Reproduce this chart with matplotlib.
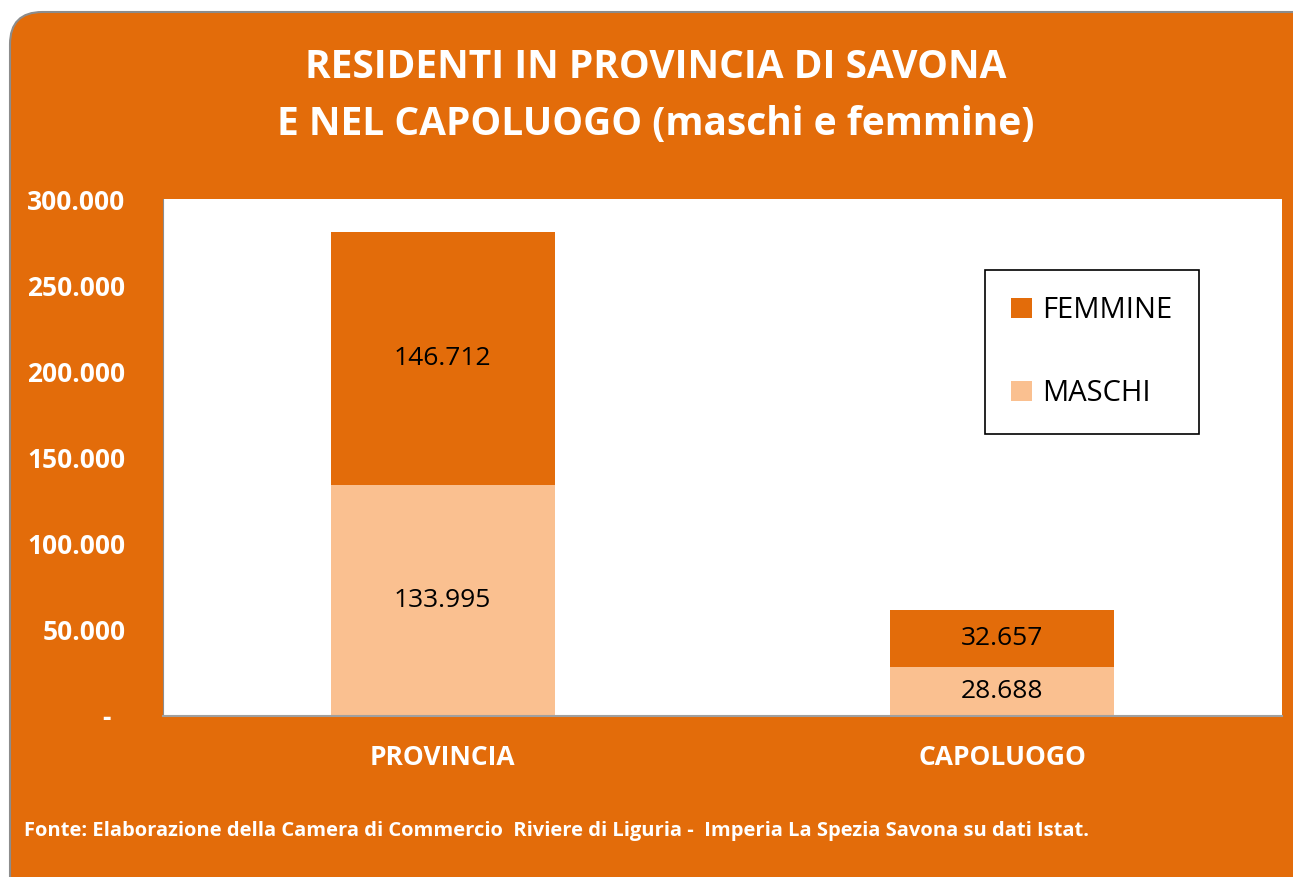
import matplotlib.pyplot as plt
from matplotlib.patches import FancyBboxPatch
from matplotlib.ticker import FuncFormatter

# dati
categorie = ["PROVINCIA", "CAPOLUOGO"]
maschi = [133995, 28688]
femmine = [146712, 32657]

arancio = "#E36C0A"
pesca = "#FAC090"
font = "Open Sans"

fig = plt.figure(figsize=(12.93, 8.77), dpi=100)
fig.patch.set_facecolor("white")

# riquadro arancione arrotondato
box = FancyBboxPatch((10 / 1293, -0.05), 1.05, 1 - 12 / 877 + 0.05,
                     boxstyle="round,pad=0,rounding_size=0.025",
                     transform=fig.transFigure, facecolor=arancio,
                     edgecolor="#8c8c8c", linewidth=1.5, mutation_aspect=1293 / 877,
                     zorder=-10)
fig.patches.append(box)

ax = fig.add_axes([163 / 1293, 1 - 716 / 877, 1119 / 1293, 517 / 877])
ax.set_zorder(5)
ax.set_facecolor("white")

x = range(len(categorie))
b1 = ax.bar(x, maschi, width=0.4, color=pesca, label="MASCHI")
b2 = ax.bar(x, femmine, width=0.4, bottom=maschi, color=arancio, label="FEMMINE")

def fmt(v):
    return f"{v:,.0f}".replace(",", ".")

for bars, vals, bott in [(b1, maschi, [0, 0]), (b2, femmine, maschi)]:
    for r, v, b in zip(bars, vals, bott):
        ax.text(r.get_x() + r.get_width() / 2, b + v / 2, fmt(v),
                ha="center", va="center", fontsize=19, family=font, color="black")

ax.set_xlim(-0.5, 1.5)
ax.set_ylim(0, 300000)
ax.set_yticks(range(0, 300001, 50000))
ax.yaxis.set_major_formatter(FuncFormatter(lambda v, p: "-  " if v == 0 else fmt(v)))
ax.set_xticks(list(x))
ax.set_xticklabels(categorie)
ax.tick_params(axis="both", length=0, colors="white", labelsize=19)
ax.tick_params(axis="y", pad=27)
ax.tick_params(axis="x", pad=20)
for lab in ax.get_xticklabels() + ax.get_yticklabels():
    lab.set_fontweight("bold")
    lab.set_family(font)

for s in ["top", "right"]:
    ax.spines[s].set_visible(False)
ax.spines["left"].set_color("#8c8c8c")
ax.spines["bottom"].set_color("#a0a0a0")
ax.spines["bottom"].set_linewidth(1.5)

h, l = ax.get_legend_handles_labels()
leg = ax.legend(h[::-1], l[::-1], loc="upper left", bbox_to_anchor=(0.7346, 0.8627),
                frameon=True, fancybox=False, edgecolor="black", framealpha=1,
                prop={"family": font, "size": 21}, handlelength=0.72, handleheight=0.72,
                labelspacing=1.85, borderpad=0.9, handletextpad=0.35, borderaxespad=0)
leg.get_frame().set_linewidth(1.2)

fig.text(656 / 1293, 1 - 68 / 877, "RESIDENTI IN PROVINCIA DI SAVONA",
         ha="center", va="center", color="white", fontsize=28, fontweight="bold", family=font)
fig.text(656 / 1293, 1 - 125 / 877, "E NEL CAPOLUOGO (maschi e femmine)",
         ha="center", va="center", color="white", fontsize=28, fontweight="bold", family=font)

fig.text(24 / 1293, 1 - 831 / 877,
         "Fonte: Elaborazione della Camera di Commercio  Riviere di Liguria -  Imperia La Spezia Savona su dati Istat.",
         ha="left", va="center", color="white", fontsize=14.5, fontweight="bold", family=font)

fig.savefig("out.png", dpi=100)
